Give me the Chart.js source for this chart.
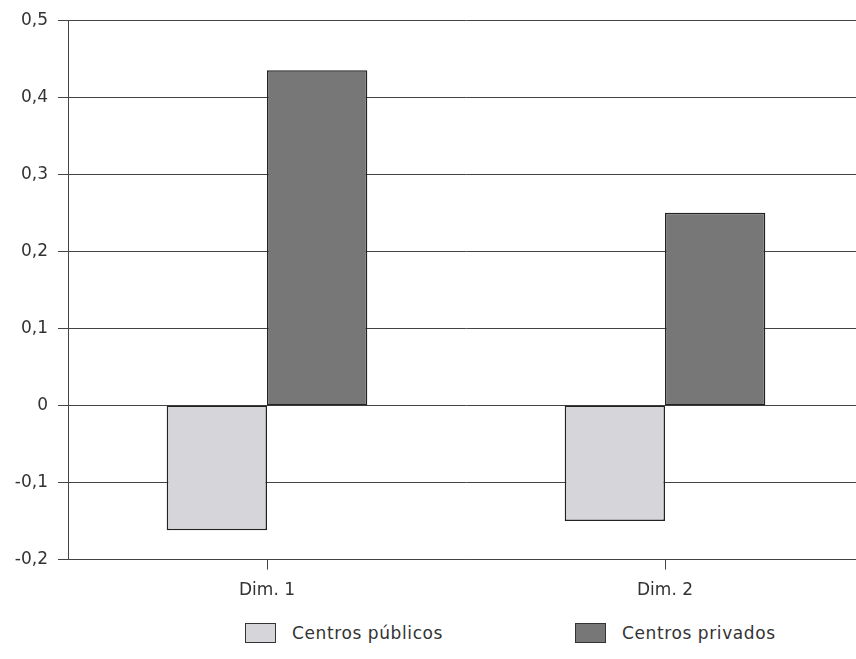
<!DOCTYPE html>
<html lang="es">
<head>
    <meta charset="UTF-8">
    <title>Centros públicos / privados</title>
    <script src="https://cdn.jsdelivr.net/npm/chart.js"></script>
    <style>
        body {
            margin: 0;
            background: #fff;
            overflow: hidden;
            font-family: 'DejaVu Sans', sans-serif;
            color: #333;
        }
        #wrap {
            position: relative;
            width: 864px;
            height: 616px;
        }
        #legend {
            position: absolute;
            top: 623px;
            left: 0;
            width: 856px;
            font-size: 17px;
            letter-spacing: 0.6px;
            color: #333;
        }
        .item {
            position: absolute;
            display: flex;
            align-items: center;
        }
        .box {
            width: 29px;
            height: 18px;
            border: 1px solid #333;
            margin-right: 16px;
        }
    </style>
</head>
<body>
    <div id="wrap"><canvas id="chart"></canvas></div>
    <div id="legend"></div>

    <script>
        const categories = ["Dim. 1", "Dim. 2"];
        const publicos = [-0.162, -0.150];
        const privados = [0.435, 0.250];
        const seriesNames = ["Centros públicos", "Centros privados"];
        const colors = ["#d5d5da", "#777777"];
        const legendLeft = [245, 575]; // where the legend boxes sit

        const fmt = v => Math.abs(v) < 1e-9 ? "0" : v.toFixed(1).replace(".", ",");

        new Chart(document.getElementById("chart"), {
            type: "bar",
            data: {
                labels: categories,
                datasets: [
                    { label: seriesNames[0], data: publicos, backgroundColor: colors[0] },
                    { label: seriesNames[1], data: privados, backgroundColor: colors[1] }
                ].map(d => ({ ...d, borderColor: "#222", borderWidth: 1.5, borderSkipped: false }))
            },
            options: {
                responsive: true,
                maintainAspectRatio: false,
                animation: false,
                layout: { padding: { top: 12, bottom: 4, left: 0, right: 0 } },
                plugins: { legend: { display: false }, tooltip: { enabled: false } },
                datasets: { bar: { categoryPercentage: 0.504, barPercentage: 1 } },
                scales: {
                    x: {
                        grid: { drawOnChartArea: false, drawTicks: true, tickLength: 10, offset: false, color: "#444" },
                        border: { display: true, color: "#444", width: 1 },
                        ticks: { color: "#333", font: { family: "DejaVu Sans", size: 17 }, padding: 11 }
                    },
                    y: {
                        min: -0.2,
                        max: 0.5,
                        afterFit: s => { s.width = 68; },
                        grid: { color: "#444", lineWidth: 1, tickLength: 10 },
                        border: { display: true, color: "#444", width: 1 },
                        ticks: {
                            stepSize: 0.1,
                            color: "#333",
                            padding: 10,
                            font: { family: "DejaVu Sans", size: 17 },
                            callback: v => fmt(v)
                        }
                    }
                }
            }
        });

        // legend below the plot
        const legend = document.getElementById("legend");
        seriesNames.forEach((name, i) => {
            const el = document.createElement("div");
            el.className = "item";
            el.style.left = legendLeft[i] + "px";
            el.innerHTML = `<span class="box" style="background:${colors[i]}"></span><span>${name}</span>`;
            legend.appendChild(el);
        });
    </script>
</body>
</html>
